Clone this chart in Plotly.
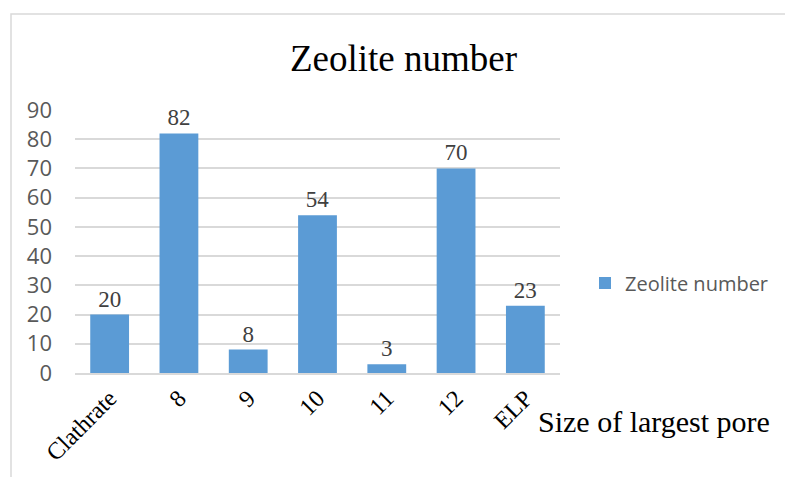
import plotly.graph_objects as go

categories = ["Clathrate", "8", "9", "10", "11", "12", "ELP"]
values = [20, 82, 8, 54, 3, 70, 23]
y_ticks = [0, 10, 20, 30, 40, 50, 60, 70, 80, 90]

SERIF = "Liberation Serif, Times New Roman, serif"
SANS = "Open Sans, Liberation Sans, sans-serif"

L, R, T, B = 75, 560, 110, 373
W, H = 785, 477

def px_x(px):
    return (px - L) / (R - L)

def px_y(py):
    return (B - py) / (B - T)

fig = go.Figure()
fig.add_trace(go.Bar(
    x=categories, y=values, name="Zeolite number",
    marker=dict(color="#5B9BD5", line=dict(width=0)),
    text=[str(v) for v in values], textposition="outside",
    textfont=dict(family=SERIF, size=23, color="#404040"),
    cliponaxis=False,
))

fig.update_layout(
    width=W, height=H,
    margin=dict(l=L, r=W - R, t=T, b=H - B, pad=0, autoexpand=False),
    paper_bgcolor="white", plot_bgcolor="white",
    bargap=0.44,
    showlegend=True,
    legend=dict(x=px_x(585), y=px_y(283), xanchor="left", yanchor="middle",
                font=dict(family=SANS, size=20, color="#595959"),
                itemwidth=30, bgcolor="rgba(0,0,0,0)"),
    xaxis=dict(tickangle=-45, tickfont=dict(family=SERIF, size=24, color="black"),
               showgrid=False, showline=True, linecolor="#d9d9d9", linewidth=1.5,
               ticks="", fixedrange=True, automargin=False),
    yaxis=dict(range=[0, 90], tickvals=y_ticks, showgrid=True, gridcolor="#d9d9d9",
               gridwidth=1.5, zeroline=False, showline=False, ticks="",
               ticklabelstandoff=22, automargin=False, fixedrange=True,
               tickfont=dict(family=SANS, size=22, color="#595959")),
    shapes=[dict(type="rect", xref="paper", yref="paper",
                 x0=px_x(11), x1=px_x(800), y0=px_y(500), y1=px_y(14),
                 line=dict(color="#d9d9d9", width=1.5), fillcolor="rgba(0,0,0,0)",
                 layer="below")],
    annotations=[
        dict(text="Zeolite number", xref="paper", yref="paper",
             x=px_x(403), y=px_y(58), xanchor="center", yanchor="middle",
             showarrow=False, font=dict(family=SERIF, size=37, color="black")),
        dict(text="Size of largest pore", xref="paper", yref="paper",
             x=px_x(536), y=px_y(421), xanchor="left", yanchor="middle",
             showarrow=False, font=dict(family=SERIF, size=30, color="black")),
    ],
)

fig.write_html(
    "out.html",
    config={"displayModeBar": False},
    post_script="document.body.style.margin='0';document.body.style.overflow='hidden';",
)
